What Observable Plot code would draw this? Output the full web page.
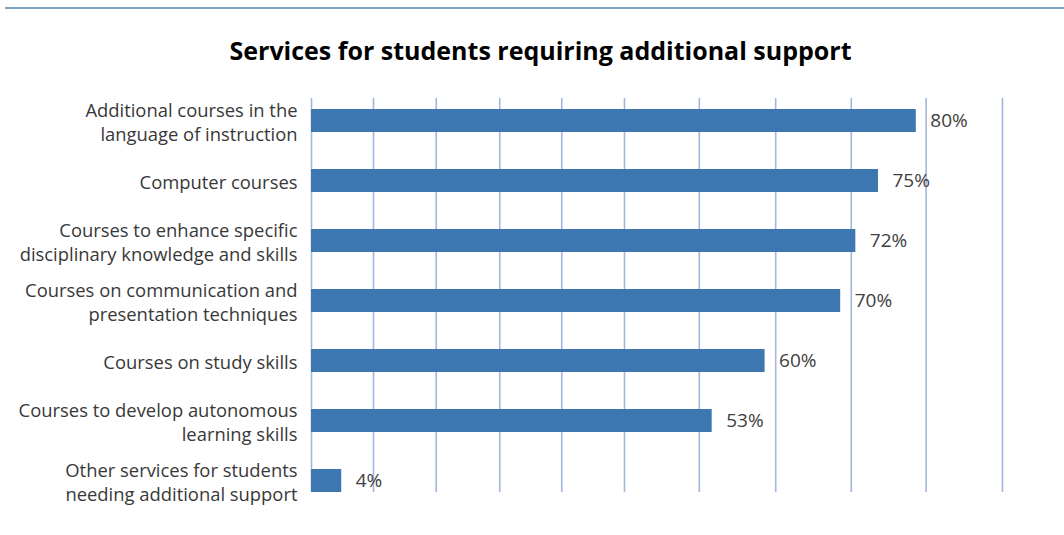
<!DOCTYPE html>
<html>
<head>
<meta charset="utf-8">
<script src="https://cdn.jsdelivr.net/npm/d3@7"></script>
<script src="https://cdn.jsdelivr.net/npm/@observablehq/plot@0.6"></script>
<style>
  html, body { margin: 0; padding: 0; background: #fff; }
  #wrap { position: relative; width: 1064px; height: 535px; overflow: hidden; }
  #topline { position: absolute; left: 5px; right: 0; top: 7px; height: 2px; background: #7BA3C4; }
  #title { position: absolute; left: 0; top: 0; width: 1064px; height: 80px; box-sizing: border-box; padding-left: 17px; padding-top: 35px;
           text-align: center; font-family: "Open Sans", sans-serif; font-weight: 700; font-size: 25px; color: #000; line-height: 30px; }
  #chart { position: absolute; left: 0; top: 80px; }
</style>
</head>
<body>
<div id="wrap">
  <div id="topline"></div>
  <div id="title">Services for students requiring additional support</div>
  <div id="chart"></div>
</div>
<script>
const categories = [
  "Additional courses in the\nlanguage of instruction",
  "Computer courses",
  "Courses to enhance specific\ndisciplinary knowledge and skills",
  "Courses on communication and\npresentation techniques",
  "Courses on study skills",
  "Courses to develop autonomous\nlearning skills",
  "Other services for students\nneeding additional support"
];
const values = [80, 75, 72, 70, 60, 53, 4];
const valueLabels = ["80%", "75%", "72%", "70%", "60%", "53%", "4%"];
const gridTicks = [0, 8.2, 16.5, 24.9, 33.1, 41.4, 51.3, 61.4, 71.4, 81.3, 91.4];

const data = categories.map((c, i) => ({category: c, value: values[i], label: valueLabels[i]}));

const W = 1064, H = 455;
const chart = Plot.plot({
  width: W,
  height: H,
  marginLeft: 311,
  marginRight: 0,
  marginTop: 18,
  marginBottom: 43,
  style: {fontFamily: "'Open Sans', sans-serif", background: "#fff"},
  x: {domain: [0, 100], range: [311, 1067], axis: null},
  y: {domain: categories, range: [9.4, 431.1], paddingInner: 0.62, paddingOuter: 0.31, axis: null},
  marks: [
    Plot.ruleX(gridTicks, {stroke: "#A3B7DC", strokeWidth: 1.6}),
    Plot.barX(data, {x: "value", y: "category", fill: "#3C77B1"}),
    Plot.text(data, {x: "value", y: "category", text: "label", textAnchor: "start", dx: 14,
      fill: "#404040", fontSize: 19}),
    Plot.text(data, {x: 0, y: "category", text: "category", textAnchor: "end", dx: -14,
      fill: "#383838", fontSize: 18.4, lineHeight: 1.3})
  ]
});
document.getElementById("chart").appendChild(chart);
</script>
</body>
</html>
